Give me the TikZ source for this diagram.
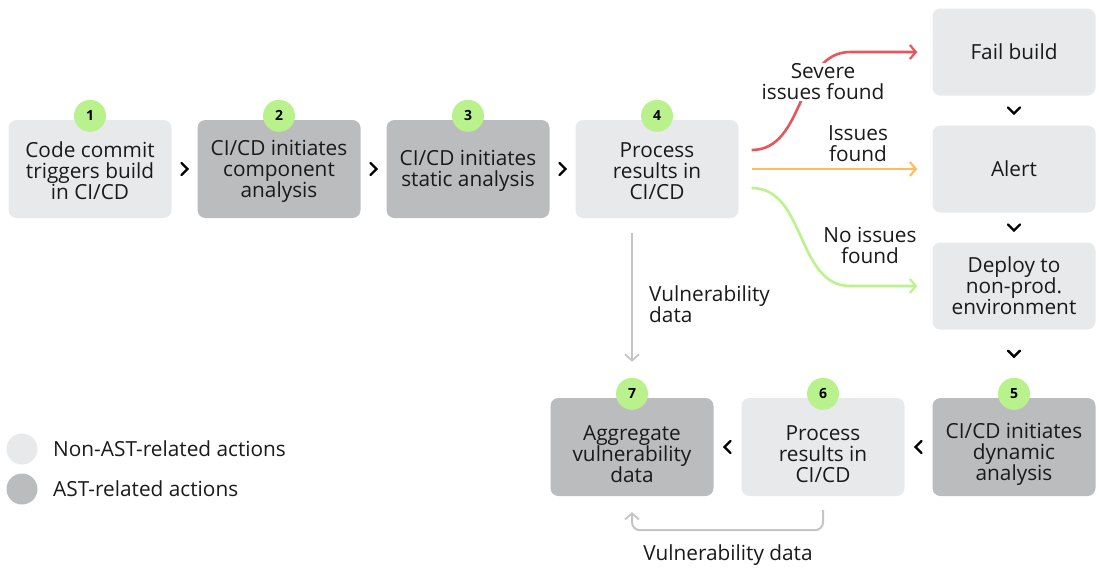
\documentclass[tikz,border=0pt]{standalone}
\usepackage{fontspec}
\setmainfont{Open Sans}
\usetikzlibrary{arrows.meta,calc}
\definecolor{lightbox}{HTML}{E8E9EB}
\definecolor{darkbox}{HTML}{BBBCBE}
\definecolor{badgegreen}{HTML}{B9F28C}
\definecolor{txt}{HTML}{1A1A1A}
\definecolor{redc}{HTML}{E8555A}
\definecolor{orangec}{HTML}{FFBC5E}
\definecolor{greenc}{HTML}{BCF28E}
\definecolor{greyc}{HTML}{C4C4C4}
\tikzset{
  box/.style={rounded corners=8pt, minimum width=163pt, minimum height=98pt, inner sep=0pt},
  lightb/.style={box, fill=lightbox},
  darkb/.style={box, fill=darkbox},
  shortb/.style={minimum height=87pt},
  badge/.style={circle, fill=badgegreen, minimum size=32pt, inner sep=0pt,
    font=\fontsize{14}{14}\selectfont\bfseries, text=black},
  lbl/.style={align=center, font=\fontsize{20.8}{21}\selectfont, text=txt, inner sep=1pt},
  chev/.style={draw=black, line width=2.4pt, line cap=round, line join=miter},
  flow/.style={line width=2.6pt, -{Straight Barb[length=6pt,width=14pt,line width=2.2pt]}},
  greyarr/.style={draw=greyc, line width=2pt, -{Straight Barb[length=6pt,width=14pt,line width=1.8pt]}},
  chevR/.pic={\draw[chev] (-3,-6) -- (3,0) -- (-3,6);},
  chevL/.pic={\draw[chev] (3,-6) -- (-3,0) -- (3,6);},
  chevD/.pic={\draw[chev] (-6,-3) -- (0,3) -- (6,-3);},
}
\begin{document}
\begin{tikzpicture}[x=1pt,y=-1pt]
\useasboundingbox (0,0) rectangle (1099,568);
% top row
\node[lightb] (b1) at (90,169) {};
\node[darkb]  (b2) at (279,169) {};
\node[darkb]  (b3) at (468,169) {};
\node[lightb] (b4) at (657,169) {};
% right column
\node[lightb,shortb] (fail) at (1014,52) {};
\node[lightb,shortb] (alert) at (1014,169) {};
\node[lightb,shortb] (deploy) at (1014,286) {};
% bottom row
\node[darkb]  (b5) at (1014,447) {};
\node[lightb] (b6) at (823,447) {};
\node[darkb]  (b7) at (632,447) {};
% box texts
\node[lbl] (t1) at ($(b1)+(0,2)$) {Code commit\\triggers build\\in CI/CD};
\node[lbl] (t2) at ($(b2)+(0,2)$) {CI/CD initiates\\component\\analysis};
\node[lbl] (t3) at ($(b3)+(0,2)$) {CI/CD initiates\\static analysis};
\node[lbl] (t4) at ($(b4)+(0,2)$) {Process\\results in\\CI/CD};
\node[lbl] (tf) at (fail) {Fail build};
\node[lbl] (ta) at (alert) {Alert};
\node[lbl] (td) at (deploy) {Deploy to\\non-prod.\\environment};
\node[lbl] (t5) at ($(b5)+(0,7)$) {CI/CD initiates\\dynamic\\analysis};
\node[lbl] (t6) at ($(b6)+(0,7)$) {Process\\results in\\CI/CD};
\node[lbl] (t7) at ($(b7)+(0,7)$) {Aggregate\\vulnerability\\data};
% badges
\foreach \b/\n in {b1/1,b2/2,b3/3,b4/4,b5/5,b6/6,b7/7}
  \node[badge] (n\n) at ($(\b.north)+(0,-4)$) {\n};
% chevrons
\pic at ($(b1.east)!0.5!(b2.west)$) {chevR};
\pic at ($(b2.east)!0.5!(b3.west)$) {chevR};
\pic at ($(b3.east)!0.5!(b4.west)$) {chevR};
\pic at ($(fail.south)!0.5!(alert.north)$) {chevD};
\pic at ($(alert.south)!0.5!(deploy.north)$) {chevD};
\pic at ($(deploy.south)!0.5!(n5.north)$) {chevD};
\pic at ($(b6.east)!0.5!(b5.west)$) {chevL};
\pic at ($(b7.east)!0.5!(b6.west)$) {chevL};
% outcome arrows
\coordinate (rs) at ($(b4.east)+(13,-19)$);
\coordinate (os) at ($(b4.east)+(13,0)$);
\coordinate (gs) at ($(b4.east)+(13,19)$);
\draw[flow, draw=redc] (rs) to[out=0,in=180] ($(fail.west)+(-82,0)$) -- ($(fail.west)+(-15,0)$);
\draw[flow, draw=orangec] (os) -- ($(alert.west)+(-15,0)$);
\draw[flow, draw=greenc] (gs) to[out=0,in=180] ($(deploy.west)+(-82,0)$) -- ($(deploy.west)+(-15,0)$);
\node[lbl, fill=white] (sev) at (823,82) {Severe\\issues found};
\node[lbl] (iss) at (858,144) {Issues\\found};
\node[lbl] (noi) at (870,245) {No issues\\found};
% vulnerability data arrows
\draw[greyarr] ($(b4.south -| b7.north)+(0,15)$) -- ($(n7.north)+(0,-16)$);
\node[lbl, align=left, anchor=west] (vd1) at (648,304) {Vulnerability\\data};
\draw[greyarr, rounded corners=8pt] ($(b6.south)+(0,14)$) -- ++(0,20) -| ($(b7.south)+(0,16)$);
\node[lbl] (vd2) at (728,555) {Vulnerability data};
% legend
\node[circle, fill=lightbox, minimum size=31pt, inner sep=0pt] (lg1) at (22,449) {};
\node[circle, fill=darkbox, minimum size=31pt, inner sep=0pt] (lg2) at (22,489) {};
\node[lbl, anchor=west] (lt1) at (52,449) {Non-AST-related actions};
\node[lbl, anchor=west] (lt2) at (52,489) {AST-related actions};
\end{tikzpicture}
\end{document}
